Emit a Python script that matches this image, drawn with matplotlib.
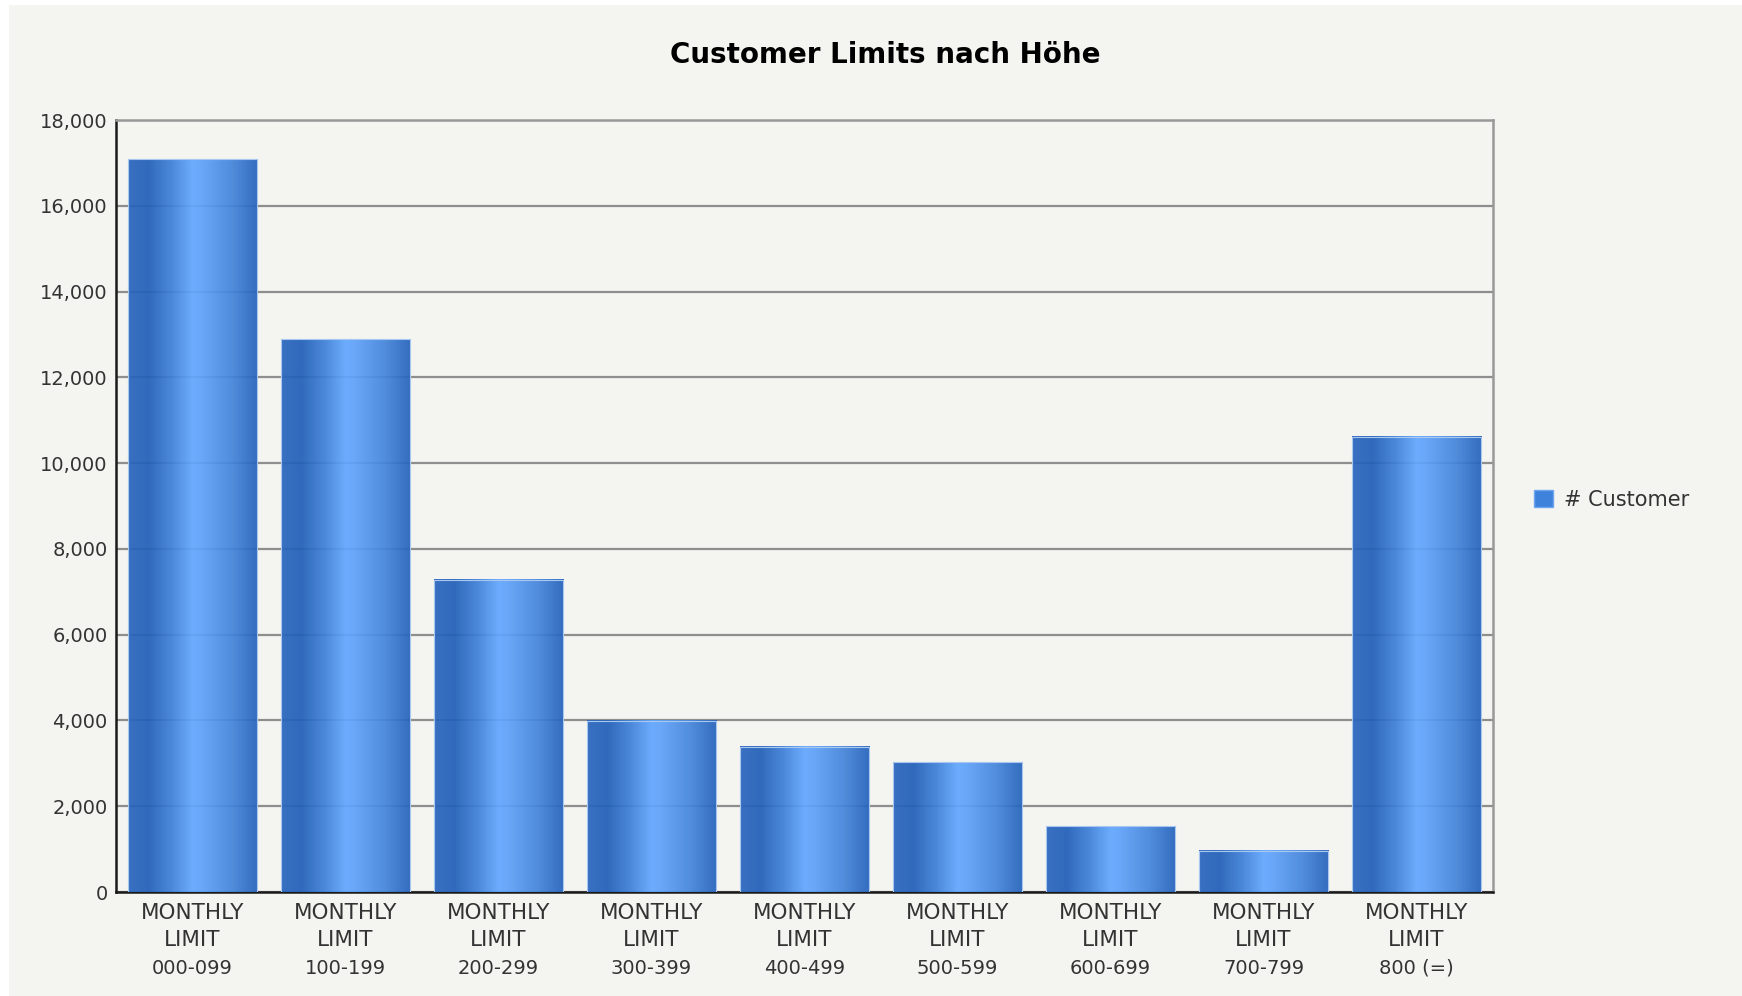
import numpy as np
import matplotlib
matplotlib.use("Agg")
import matplotlib.pyplot as plt
from matplotlib.colors import LinearSegmentedColormap
from matplotlib.patches import Rectangle
from matplotlib.ticker import FuncFormatter

# Daten
categories = ["000-099", "100-199", "200-299", "300-399", "400-499",
              "500-599", "600-699", "700-799", "800 (=)"]
customers = [17090, 12890, 7280, 3990, 3390, 3030, 1530, 960, 10620]
series_name = "# Customer"
title = "Customer Limits nach Höhe"

bg = "#f4f4f0"
grad = LinearSegmentedColormap.from_list(
    "bar", [(0.0, "#2a66bf"), (0.16, "#2260b8"), (0.33, "#3e7fd8"),
            (0.5, "#62a7ff"), (0.58, "#5ea0f8"), (0.8, "#4585db"),
            (1.0, "#2562bb")])

fig = plt.figure(figsize=(17.42, 9.96), dpi=100)
fig.patch.set_facecolor("white")
# grauer Hintergrund-Rahmen
fig.patches.append(Rectangle((9 / 1742, 0), 1 - 9 / 1742, 1 - 5 / 996,
                             transform=fig.transFigure, facecolor=bg,
                             edgecolor="none", zorder=-10))

ax = fig.add_axes([116 / 1742, 1 - 892 / 996, 1377 / 1742, 772 / 996])
ax.set_facecolor(bg)

x = np.arange(len(categories))
width = 0.845
bars = ax.bar(x, customers, width=width, color="none", edgecolor="none", zorder=3)

gradimg = np.linspace(0, 1, 256).reshape(1, -1)
for b in bars:
    x0, w, h = b.get_x(), b.get_width(), b.get_height()
    ax.imshow(gradimg, cmap=grad, aspect="auto", extent=(x0, x0 + w, 0, h),
              zorder=3, alpha=0.93, interpolation="bilinear")
    ax.add_patch(Rectangle((x0, 0), w, h, facecolor="none",
                           edgecolor="#a8c8f0", linewidth=0.8, zorder=4))

ax.set_xlim(-0.5, len(categories) - 0.5)
ax.set_ylim(0, 18000)
ax.set_yticks(np.arange(0, 18001, 2000))
ax.yaxis.set_major_formatter(FuncFormatter(lambda v, p: f"{int(v):,}"))
ax.yaxis.grid(True, color="#8e8e8e", linewidth=1.6, zorder=1)
ax.set_axisbelow(True)

ax.set_xticks(x)
ax.set_xticklabels(["MONTHLY\nLIMIT"] * len(categories), fontsize=15.5,
                   color="#333333", linespacing=1.45)
for xi, c in zip(x, categories):
    ax.annotate(c, xy=(xi, 0), xycoords=("data", "axes fraction"),
                xytext=(0, -48), textcoords="offset points",
                ha="center", va="top", fontsize=14, color="#333333")

ax.tick_params(axis="both", length=0)
ax.tick_params(axis="y", labelsize=14, labelcolor="#333333", pad=6)
ax.tick_params(axis="x", pad=8)

for s in ["left", "bottom"]:
    ax.spines[s].set_color("#1a1a1a")
    ax.spines[s].set_linewidth(1.8)
for s in ["top", "right"]:
    ax.spines[s].set_color("#999999")
    ax.spines[s].set_linewidth(1.8)

fig.text(885 / 1742, 1 - 55 / 996, title, ha="center", va="center",
         fontsize=20, fontweight="bold", color="black")

# Legende
handle = Rectangle((0, 0), 1, 1, facecolor="#3f82dc", edgecolor="#6ea6f0")
fig.legend([handle], [series_name], loc="center left",
           bbox_to_anchor=(1515 / 1742, 1 - 500 / 996), frameon=False,
           fontsize=15, handlelength=0.9, handleheight=0.9,
           handletextpad=0.55, labelcolor="#333333")

fig.savefig("out.png", dpi=100, facecolor=fig.get_facecolor())
